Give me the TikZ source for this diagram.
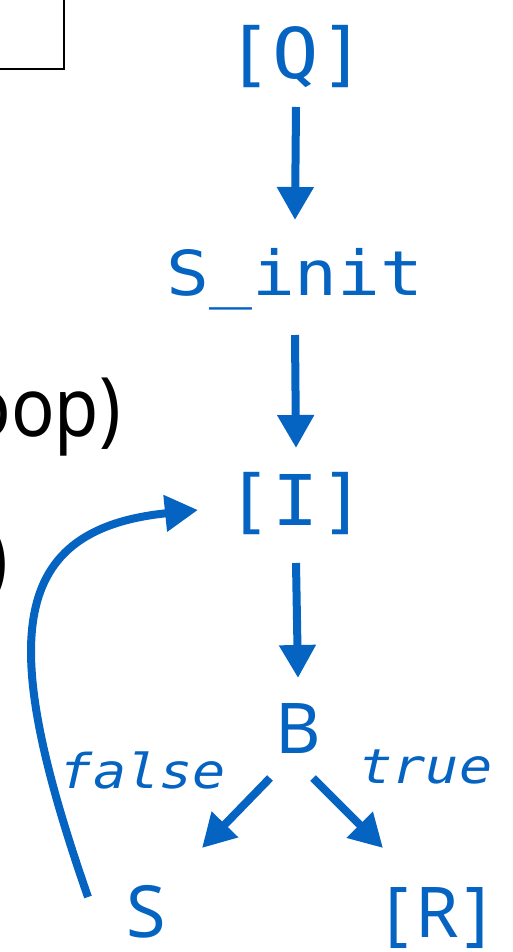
\documentclass[tikz,border=0pt]{standalone}
\usepackage{fontspec}
\setmainfont{Noto Sans}
\newfontfamily\notefont[FakeStretch=0.88]{Noto Sans}
\newfontfamily\codefont[FakeStretch=1.1]{DejaVu Sans Mono}
\newfontfamily\codewide[FakeStretch=1.15]{DejaVu Sans Mono}
\usetikzlibrary{arrows.meta}
\definecolor{linkblue}{HTML}{0563C1}
\tikzset{
  lbl/.style={inner sep=0pt, anchor=base},
  code/.style={lbl, text=linkblue, font=\codefont\fontsize{70}{74}\selectfont},
  codesmall/.style={lbl, text=linkblue, font=\codewide\fontsize{62}{66}\selectfont},
  cond/.style={lbl, text=linkblue, font=\codewide\itshape\fontsize{48}{52}\selectfont},
  sym/.style={lbl, text=linkblue, font=\fontsize{70}{74}\selectfont},
  plain/.style={inner sep=0pt, anchor=base east, font=\notefont\fontsize{82}{86}\selectfont},
  flow/.style={draw=linkblue, line width=8pt, -{Triangle[length=33pt,width=35pt]}},
}
\begin{document}
\begin{tikzpicture}[x=1pt,y=-1pt]
\useasboundingbox (0,0) rectangle (512,952);
\clip (0,0) rectangle (512,952);

% frame and text running in from the left
\draw[line width=2.2pt] (-20,-20) rectangle (64,69);
\node[plain] (loopnote) at (121,436) {oop)};
\node[plain] (paren) at (8,587) {)};

% control flow nodes
\node[code] (Q) at (296,79) {[Q]};
\node[codesmall] (Sinit) at (295,295) {S\_init};
\node[code] (I) at (296,525) {[I]};
\node[sym] (B) at (298,753) {B};
\node[sym, font=\fontsize{72}{76}\selectfont] (S) at (146,937) {S};
\node[sym] (R) at (437,937) {[\kern7pt R\kern7pt]};

% branch labels
\node[cond] (lfalse) at (143,788) {false};
\node[cond] (ltrue) at (426,783) {true};

% edges
\draw[flow] ([yshift=-28pt]Q.base) -- ([yshift=75pt]Sinit.base);
\draw[flow] ([yshift=-40pt]Sinit.base) -- ([yshift=77pt]I.base);
\draw[flow] ([yshift=-38pt]I.base) -- ([yshift=75pt]B.base);
\draw[flow] ([xshift=-28pt,yshift=-25pt]B.base) -- ([xshift=56pt,yshift=89pt]S.base);
\draw[flow] ([xshift=15pt,yshift=-25pt]B.base) -- ([xshift=-54pt,yshift=89pt]R.base);
\draw[flow] ([xshift=-58pt,yshift=40pt]S.base) .. controls (2,650) and (2,530) .. ([xshift=-98pt,yshift=15pt]I.base);
\end{tikzpicture}
\end{document}
